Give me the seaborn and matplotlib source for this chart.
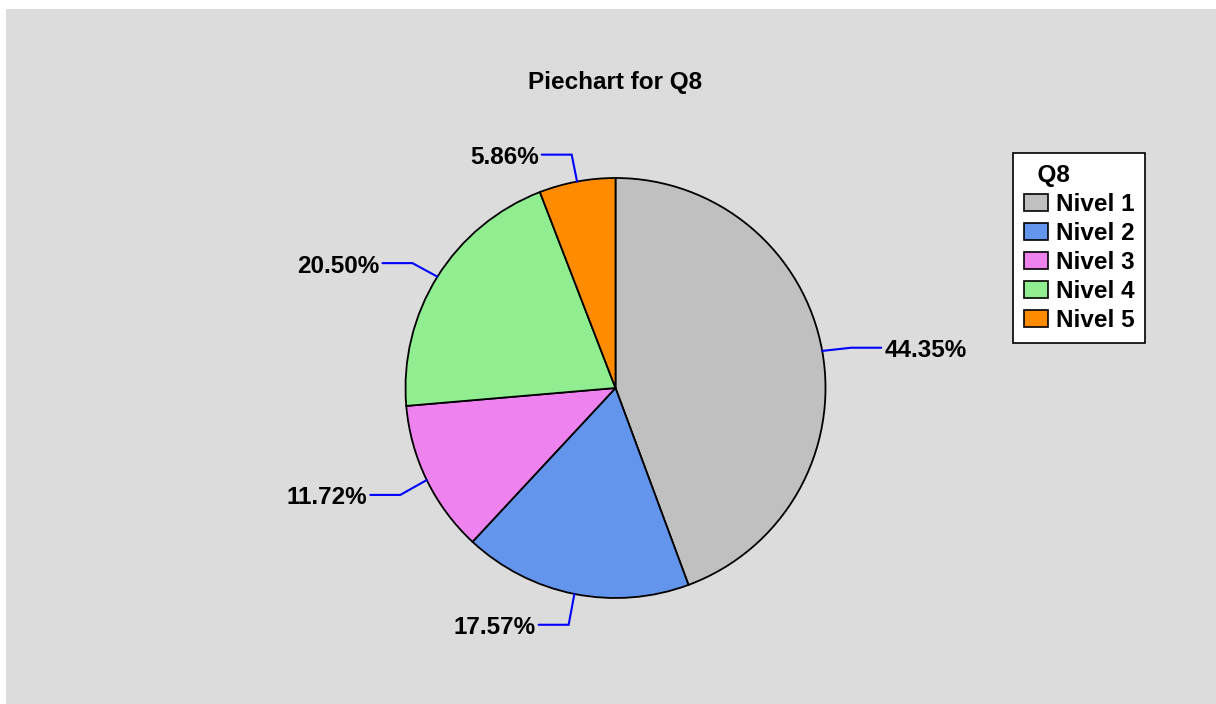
import numpy as np
import matplotlib
matplotlib.use("Agg")
import matplotlib.pyplot as plt
from matplotlib.patches import Patch, Rectangle
import seaborn as sns

# Survey answer shares for question Q8
categories = ["Nivel 1", "Nivel 2", "Nivel 3", "Nivel 4", "Nivel 5"]
shares = [44.35, 17.57, 11.72, 20.50, 5.86]
colors = ["#C0C0C0", "#6495ED", "#EE82EE", "#90EE90", "#FF8C00"]
chart_title = "Piechart for Q8"
legend_title = "Q8"

sns.set_theme(style="white")
plt.rcParams["font.family"] = ["Liberation Sans", "DejaVu Sans"]
plt.rcParams["font.weight"] = "bold"
plt.rcParams["text.color"] = "black"

W, H = 1216, 704
fig = plt.figure(figsize=(W / 100, H / 100), dpi=100, facecolor="white")

# grey panel behind the chart
fig.patches.append(Rectangle((6 / W, 0), 1 - 6 / W, 1 - 9 / H,
                             transform=fig.transFigure, facecolor="#DCDCDC",
                             edgecolor="none", zorder=-10))

# axes in pixel units so the pie keeps a circular shape
ax = fig.add_axes([0, 0, 1, 1])
ax.patch.set_alpha(0)

cx, cy, r = 615.5, H - 388, 210
wedges, _ = ax.pie(shares, colors=colors, startangle=90, counterclock=False,
                   center=(cx, cy), radius=r,
                   wedgeprops=dict(edgecolor="black", linewidth=1.3))
ax.set_xlim(0, W)
ax.set_ylim(0, H)
ax.set_aspect("equal")
ax.axis("off")

# percentage labels with bent blue leader lines
for w, val in zip(wedges, shares):
    ang = np.deg2rad((w.theta1 + w.theta2) / 2)
    ca, sa = np.cos(ang), np.sin(ang)
    p0 = (cx + r * ca, cy + r * sa)
    p1 = (cx + 1.14 * r * ca, cy + 1.14 * r * sa - 2)
    side = 1 if ca >= 0 else -1
    p2 = (p1[0] + side * 30, p1[1])
    ax.plot([p0[0], p1[0], p2[0]], [p0[1], p1[1], p2[1]],
            color="#0000FF", linewidth=1.5, solid_joinstyle="miter")
    ax.text(p2[0] + side * 3, p2[1] - 3, f"{val:.2f}%",
            ha="left" if side > 0 else "right", va="center",
            fontsize=17.5, fontweight="bold", color="black")

fig.text(615 / W, 1 - 83 / H, chart_title, ha="center", va="center",
         fontsize=17.5, fontweight="bold", color="black")

handles = [Patch(facecolor=c, edgecolor="black", linewidth=1.2) for c in colors]
leg = fig.legend(handles, categories, title="  " + legend_title,
                 loc="upper left", bbox_to_anchor=(1013 / W, 1 - 153 / H),
                 bbox_transform=fig.transFigure,
                 prop=dict(size=17.5, weight="bold"),
                 title_fontproperties=dict(size=17.5, weight="bold"),
                 frameon=True, fancybox=False, shadow=False,
                 handlelength=1.0, handleheight=0.72, handletextpad=0.3,
                 labelspacing=0.25, borderpad=0.45, borderaxespad=0,
                 alignment="left")
for t in leg.get_texts():
    t.set_color("black")
leg.get_title().set_color("black")
frame = leg.get_frame()
frame.set_facecolor("white")
frame.set_edgecolor("black")
frame.set_linewidth(1.2)
frame.set_alpha(1)

fig.savefig("out.png", dpi=100, facecolor=fig.get_facecolor())
